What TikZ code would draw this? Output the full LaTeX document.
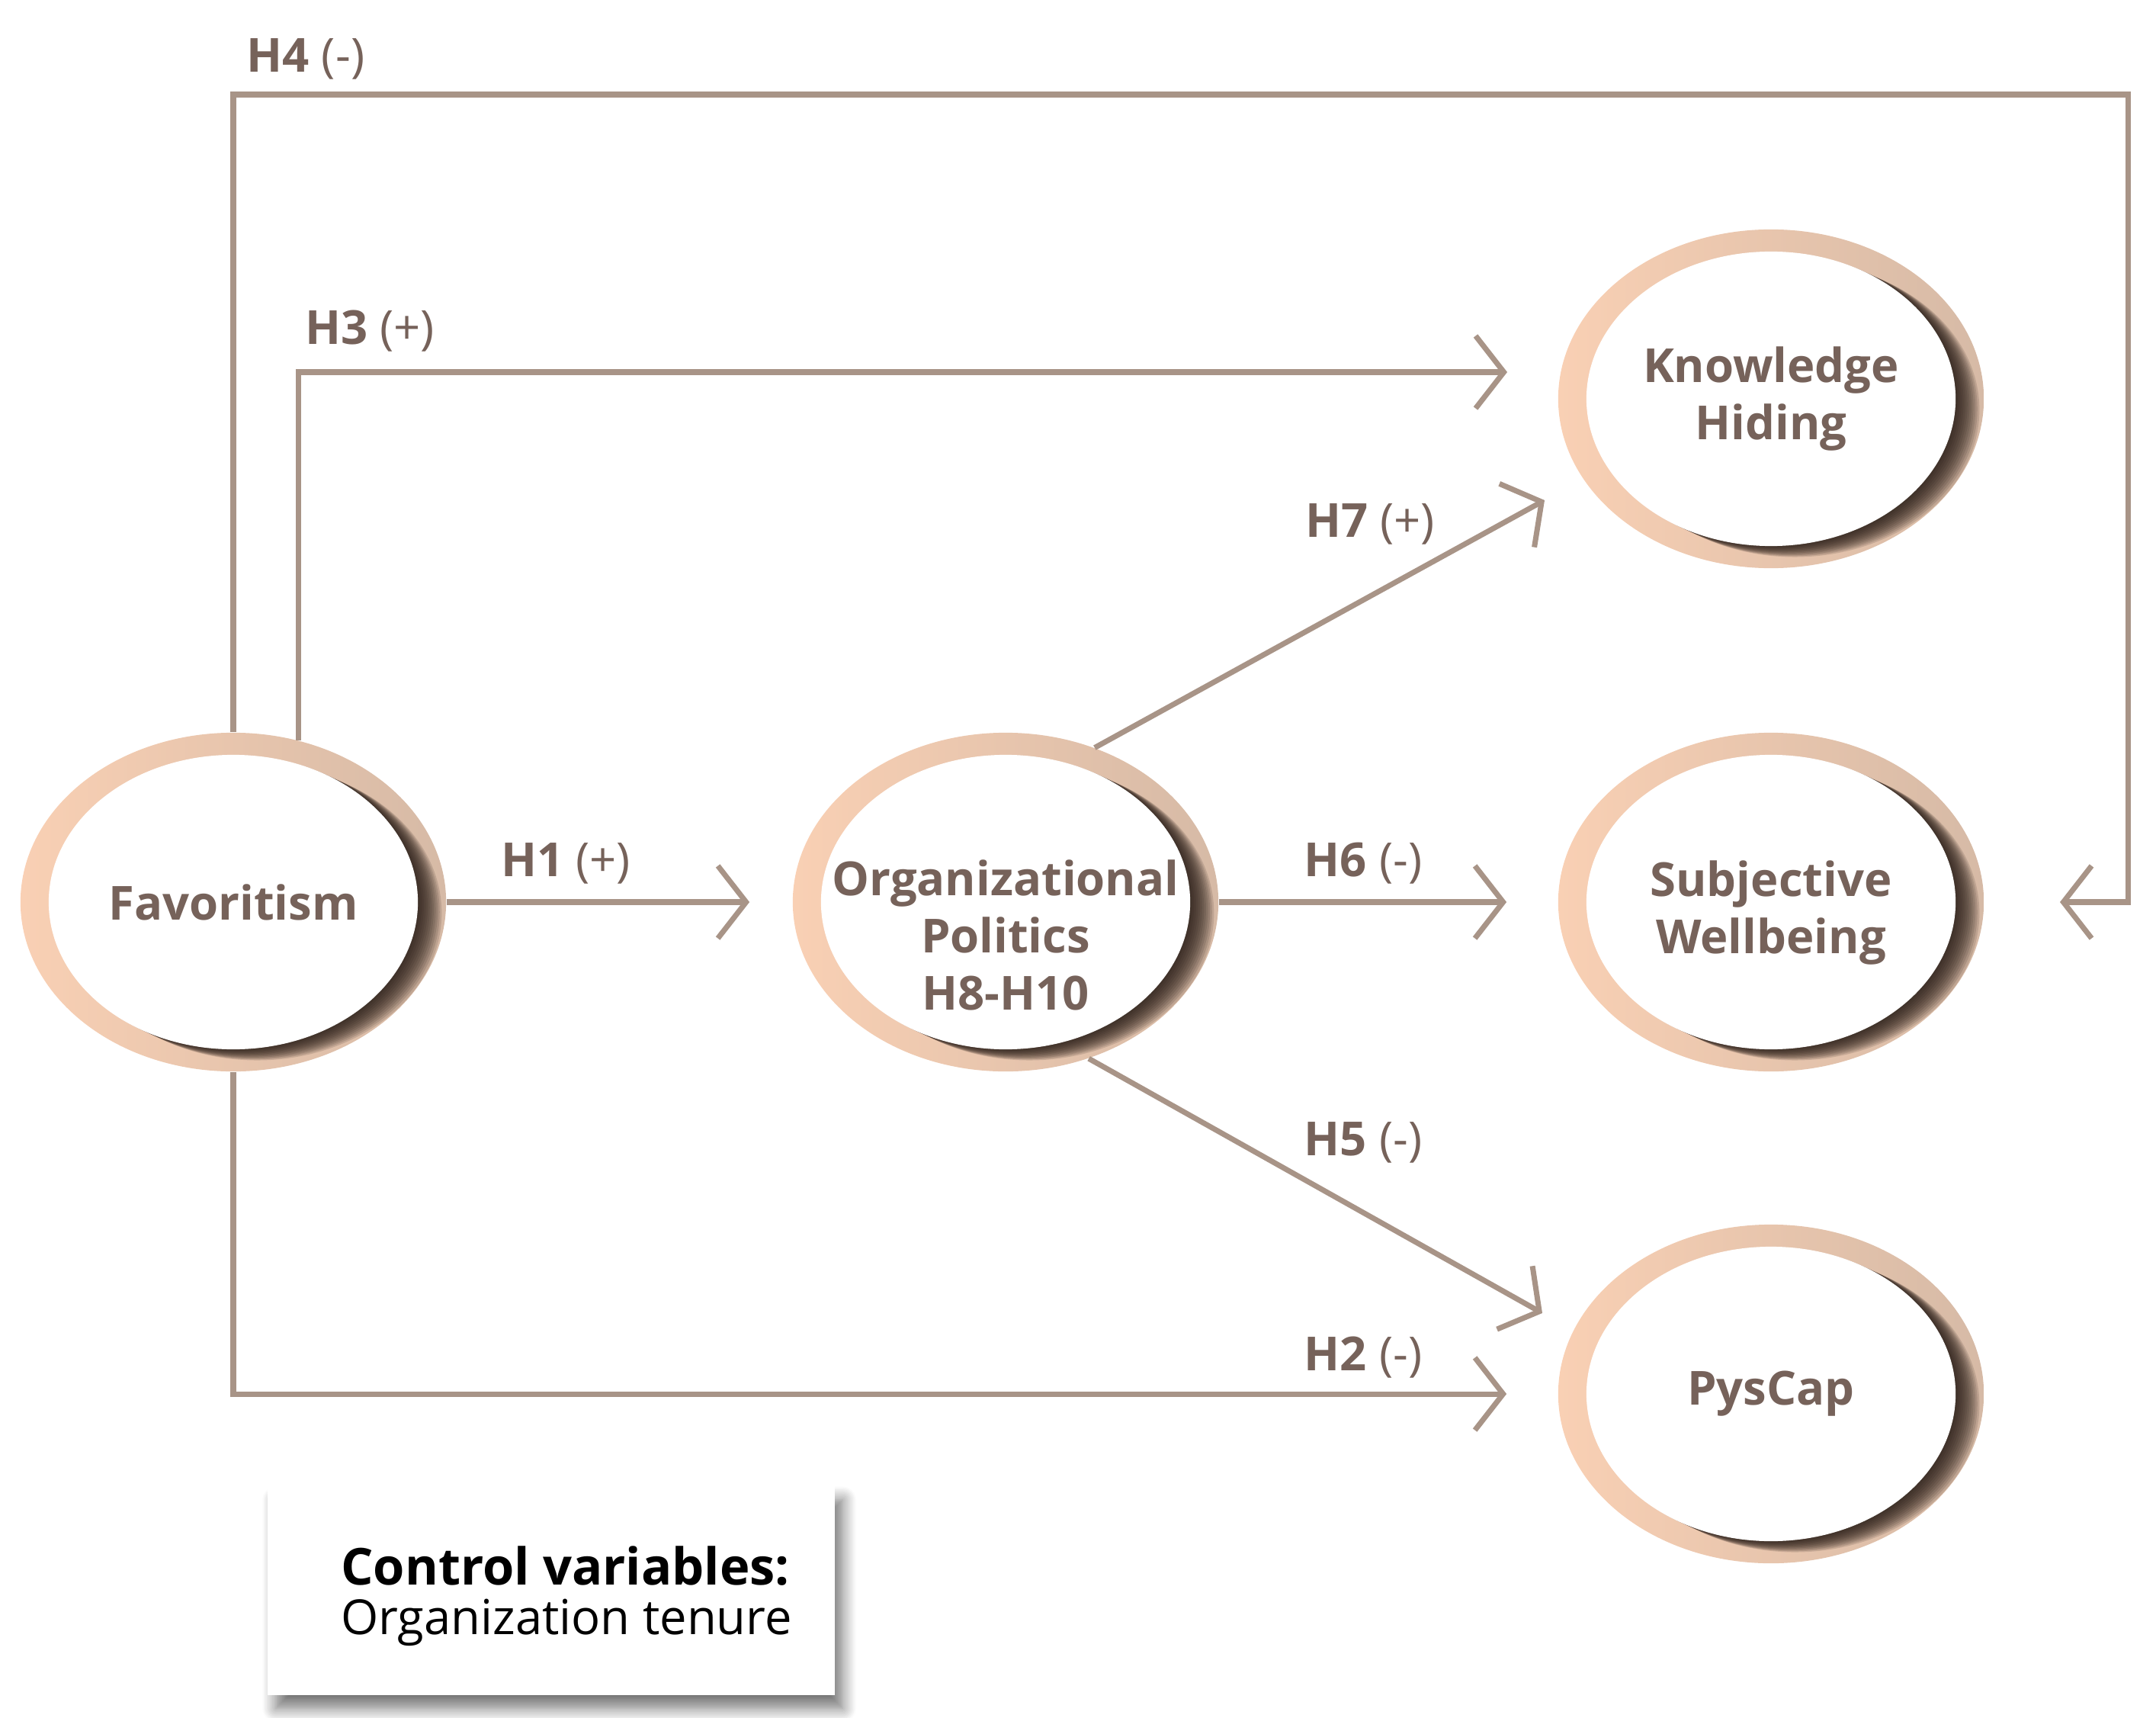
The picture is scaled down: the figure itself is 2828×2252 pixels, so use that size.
\documentclass[tikz,border=0pt]{standalone}
\usepackage{fontspec}
\setmainfont{Open Sans}
\usetikzlibrary{shapes.geometric,arrows.meta,shadows.blur}

\definecolor{linebrown}{RGB}{168,148,135}
\definecolor{textbrown}{RGB}{118,98,90}
\definecolor{ringpeach}{RGB}{249,208,180}
\definecolor{ringtan}{RGB}{214,186,166}
\definecolor{ringshadow}{RGB}{40,28,22}

\newcommand\cstfont{\fontsize{17.5}{21.3}\selectfont\bfseries}
\newcommand\hypfont{\fontsize{17.5}{21}\selectfont}
\newcommand\ctrlfont{\fontsize{18}{18.6}\selectfont}

\tikzset{
  construct/.style={ellipse, minimum width=5.58cm, minimum height=4.44cm, inner sep=-0.6cm,
    left color=ringpeach, right color=ringtan, align=center, text=textbrown, font=\cstfont,
    path picture={
      \foreach \k in {1,...,12}
        \fill[ringshadow, opacity=0.14] ([xshift=\k*0.26mm, yshift=-\k*0.12mm]path picture bounding box.center)
          ellipse [x radius=2.42cm, y radius=1.93cm];
      \fill[white] (path picture bounding box.center) ellipse [x radius=2.42cm, y radius=1.93cm];
    }},
  hyp/.style={draw=linebrown, line width=2pt, -{Straight Barb[length=0.37cm, width=0.95cm]}},
  hyplabel/.style={text=textbrown, font=\hypfont},
  ctrlbox/.style={rectangle, fill=white, minimum width=7.43cm, minimum height=2.73cm,
    align=left, font=\ctrlfont, text height=1.3cm,
    blur shadow={shadow xshift=3pt, shadow yshift=-5pt, shadow blur radius=5pt, shadow blur steps=10, shadow opacity=55}}
}

\begin{document}
\begin{tikzpicture}[x=0.01cm, y=-0.01cm]
  \useasboundingbox (0,0) rectangle (2828,2252);

  % constructs
  \node[construct] (fav) at (306,1183) {Favoritism};
  \node[construct, text height=2.84cm] (org) at (1319,1183) {Organizational\\Politics\\H8-H10};
  \node[construct] (kh) at (2323,523) {Knowledge\\Hiding};
  \node[construct, text height=1.5cm] (sw) at (2323,1183) {Subjective\\Wellbeing};
  \node[construct] (pc) at (2323,1828) {PysCap};

  % free ends of the paths
  \coordinate (h4turn) at (2791,124);
  \coordinate (h4end) at (2702,1183);
  \coordinate (h3end) at (1977,488);
  \coordinate (h7end) at (2026,656);
  \coordinate (h5end) at (2023,1722);

  % hypotheses
  \draw[hyp] (fav.north) |- (h4turn) |- (h4end);
  \draw[hyp] (fav.68) |- (h3end);
  \draw[hyp, shorten >=0.56cm] (fav) -- (org);
  \draw[hyp, shorten >=0.67cm] (fav) |- (pc);
  \draw[hyp, shorten >=0.67cm] (org) -- (sw);
  \draw[hyp] (org.60) -- (h7end);
  \draw[hyp] (org.-62) -- (h5end);

  \node[hyplabel] (lh4) at (401,77) {\textbf{H4} (-)};
  \node[hyplabel] (lh3) at (485,434) {\textbf{H3} (+)};
  \node[hyplabel] (lh7) at (1797,687) {\textbf{H7} (+)};
  \node[hyplabel] (lh1) at (742,1132) {\textbf{H1} (+)};
  \node[hyplabel] (lh6) at (1788,1132) {\textbf{H6} (-)};
  \node[hyplabel] (lh5) at (1788,1498) {\textbf{H5} (-)};
  \node[hyplabel] (lh2) at (1788,1780) {\textbf{H2} (-)};

  % control variables
  \node[ctrlbox] (ctrl) at (723,2086)
    {\hspace*{0.4cm}{\fontsize{19}{18.6}\selectfont\bfseries Control variables:}\\\hspace*{0.4cm}Organization tenure};
\end{tikzpicture}
\end{document}
